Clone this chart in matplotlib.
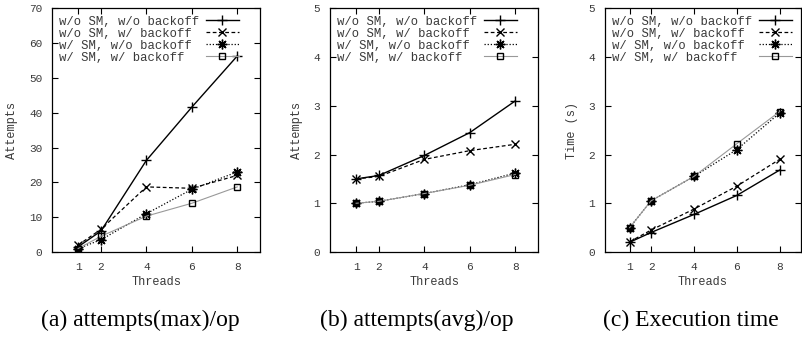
"""Attempts and execution time vs. thread count, four SM/backoff variants."""

import matplotlib

matplotlib.use("Agg")
import matplotlib.pyplot as plt

threads = [1, 2, 4, 6, 8]
labels = [
    "w/o SM, w/o backoff",
    "w/o SM, w/ backoff",
    "w/ SM, w/o backoff",
    "w/ SM, w/ backoff",
]

# (a) attempts(max)/op
max_nosm_nobo = [1.5, 6.0, 26.3, 41.6, 56.3]
max_nosm_bo = [2.0, 6.5, 18.7, 18.3, 22.0]
max_sm_nobo = [1.0, 3.5, 11.0, 18.0, 23.0]
max_sm_bo = [1.0, 4.5, 10.3, 14.0, 18.7]

# (b) attempts(avg)/op
avg_nosm_nobo = [1.5, 1.57, 1.98, 2.45, 3.1]
avg_nosm_bo = [1.5, 1.55, 1.9, 2.08, 2.21]
avg_sm_nobo = [1.0, 1.04, 1.2, 1.38, 1.62]
avg_sm_bo = [1.0, 1.04, 1.2, 1.37, 1.59]

# (c) execution time (s)
time_nosm_nobo = [0.2, 0.4, 0.77, 1.16, 1.68]
time_nosm_bo = [0.21, 0.45, 0.88, 1.35, 1.9]
time_sm_nobo = [0.5, 1.05, 1.55, 2.1, 2.85]
time_sm_bo = [0.5, 1.05, 1.55, 2.22, 2.88]

MONO = "Liberation Mono"
SERIF = "Liberation Serif"
TXT = "#3a3a3a"

STYLES = [
    dict(color="black", ls="-", lw=1.0, marker="+", ms=7, mew=1.0),
    dict(color="black", ls=(0, (3, 2)), lw=0.9, marker="x", ms=6, mew=1.0),
    dict(color="black", ls=(0, (1, 1.5)), lw=0.9, marker=(8, 2, 0), ms=7, mew=1.0),
    dict(color="#999999", ls="-", lw=0.8, marker="s", ms=5, mew=1.0,
         mfc="none", mec="black"),
]


def panel(fig, rect, series, ymax, ylabel, caption, cap_x):
    ax = fig.add_axes(rect)
    width = max(len(s) for s in labels)
    for vals, lab, st in zip(series, labels, STYLES):
        # monospace font: pad so the labels line up on the left
        ax.plot(threads, vals, label=lab.ljust(width), **st)
    ax.set_xlim(-0.15, 9.0)
    ax.set_ylim(0, ymax)
    ax.set_xticks(threads)
    ax.tick_params(direction="in", length=4, width=0.8, top=True, right=True,
                   labelsize=8.0, pad=7, colors="black", labelcolor=TXT)
    for lab in ax.get_xticklabels() + ax.get_yticklabels():
        lab.set_fontfamily(MONO)
    for sp in ax.spines.values():
        sp.set_linewidth(0.9)
    ax.set_xlabel("Threads", fontfamily=MONO, fontsize=8.6, color=TXT, labelpad=3)
    ax.set_ylabel(ylabel, fontfamily=MONO, fontsize=8.6, color=TXT, labelpad=8)
    leg = ax.legend(loc="upper left", frameon=False, markerfirst=False,
                    prop={"family": MONO, "size": 8.8}, handlelength=2.7,
                    labelspacing=0.0, borderaxespad=0.25, handletextpad=0.5,
                    borderpad=0.35)
    for t in leg.get_texts():
        t.set_color(TXT)
    fig.text(cap_x / 802, 1 - 320 / 344, caption, ha="center", va="center",
             fontfamily=SERIF, fontsize=17)
    return ax


def main():
    fig = plt.figure(figsize=(8.02, 3.44), dpi=100)
    bottom = 1 - 252 / 344
    height = (252 - 8.3) / 344
    width = 208 / 802
    panel(fig, [52 / 802, bottom, width, height],
          [max_nosm_nobo, max_nosm_bo, max_sm_nobo, max_sm_bo],
          70, "Attempts", "(a) attempts(max)/op", 140)
    panel(fig, [330 / 802, bottom, width, height],
          [avg_nosm_nobo, avg_nosm_bo, avg_sm_nobo, avg_sm_bo],
          5, "Attempts", "(b) attempts(avg)/op", 417)
    panel(fig, [605 / 802, bottom, 196 / 802, height],
          [time_nosm_nobo, time_nosm_bo, time_sm_nobo, time_sm_bo],
          5, "Time (s)", "(c) Execution time", 691)
    fig.savefig("out.png", dpi=100)
    plt.close(fig)


if __name__ == "__main__":
    main()
